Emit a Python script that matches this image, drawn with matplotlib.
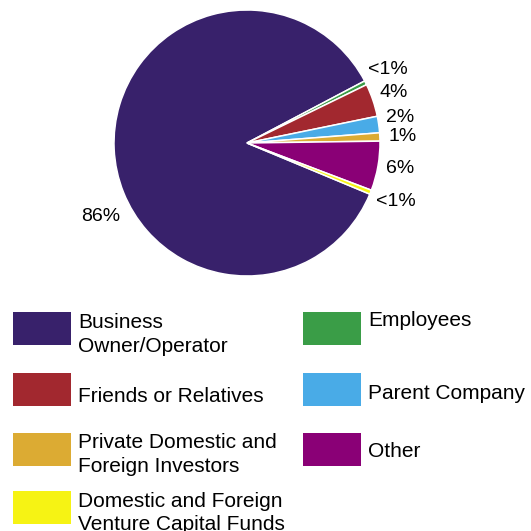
import matplotlib
matplotlib.use("Agg")
import matplotlib.pyplot as plt
from matplotlib.patches import Rectangle
import numpy as np

plt.rcParams['font.family'] = ['Liberation Sans', 'DejaVu Sans']

# funding sources (share of total, %)
sources = ["Business\nOwner/Operator", "Employees", "Friends or Relatives",
           "Parent Company", "Private Domestic and\nForeign Investors", "Other",
           "Domestic and Foreign\nVenture Capital Funds"]
shares = [86, 0.5, 4, 2, 1, 6, 0.5]
pct_labels = ["86%", "<1%", "4%", "2%", "1%", "6%", "<1%"]
colors = ["#38216b", "#3a9d47", "#a2282f", "#49abe7", "#dcab33", "#8a0076", "#f6f314"]

W = H = 531
fig = plt.figure(figsize=(W / 100, H / 100), dpi=100)

# pixel-space canvas for the legend
lax = fig.add_axes([0, 0, 1, 1])
lax.set_xlim(0, W)
lax.set_ylim(H, 0)
lax.axis("off")

# pie axes: centre (247, 143), radius 133 px
cx, cy, r = 247, 143, 133
ax = fig.add_axes([(cx - r) / W, 1 - (cy + r) / H, 2 * r / W, 2 * r / H])
wedges, texts = ax.pie(shares, colors=colors, labels=pct_labels, startangle=-22.6,
                       counterclock=False, radius=1, labeldistance=1.07,
                       wedgeprops=dict(edgecolor="white", linewidth=1.1),
                       textprops=dict(fontsize=14, color="black"))
ax.set_xlim(-1, 1)
ax.set_ylim(-1, 1)
ax.set_aspect("equal")

# spread the small-slice labels and move the big one to lower left
nudge = [0, 4.5, 2, 2.5, 0, -0.5, -2.5]
for t, w, dn in zip(texts, wedges, nudge):
    ang = np.deg2rad((w.theta1 + w.theta2) / 2 + dn)
    t.set_position((1.065 * np.cos(ang), 1.065 * np.sin(ang)))
    t.set_va("center")
ang = np.deg2rad(210)
texts[0].set_position((1.1 * np.cos(ang), 1.1 * np.sin(ang)))
texts[0].set_ha("right")

# legend: two columns, four rows
col_x = [13, 303]
row_y = [312, 373, 433, 491]
text_dy = [16, 14, 29, 26, 15, 24, 16]   # first-line baseline below box top
line_h = 23.5
pw, ph = 58, 33
for i, (lab, c) in enumerate(zip(sources, colors)):
    row, col = divmod(i, 2)
    x0, y0 = col_x[col], row_y[row]
    lax.add_patch(Rectangle((x0, y0), pw, ph, facecolor=c, edgecolor="none"))
    for k, line in enumerate(lab.split("\n")):
        lax.text(x0 + pw + 7, y0 + text_dy[i] + k * line_h, line, fontsize=15,
                 color="black", ha="left", va="baseline")

fig.savefig("out.png", dpi=100)
